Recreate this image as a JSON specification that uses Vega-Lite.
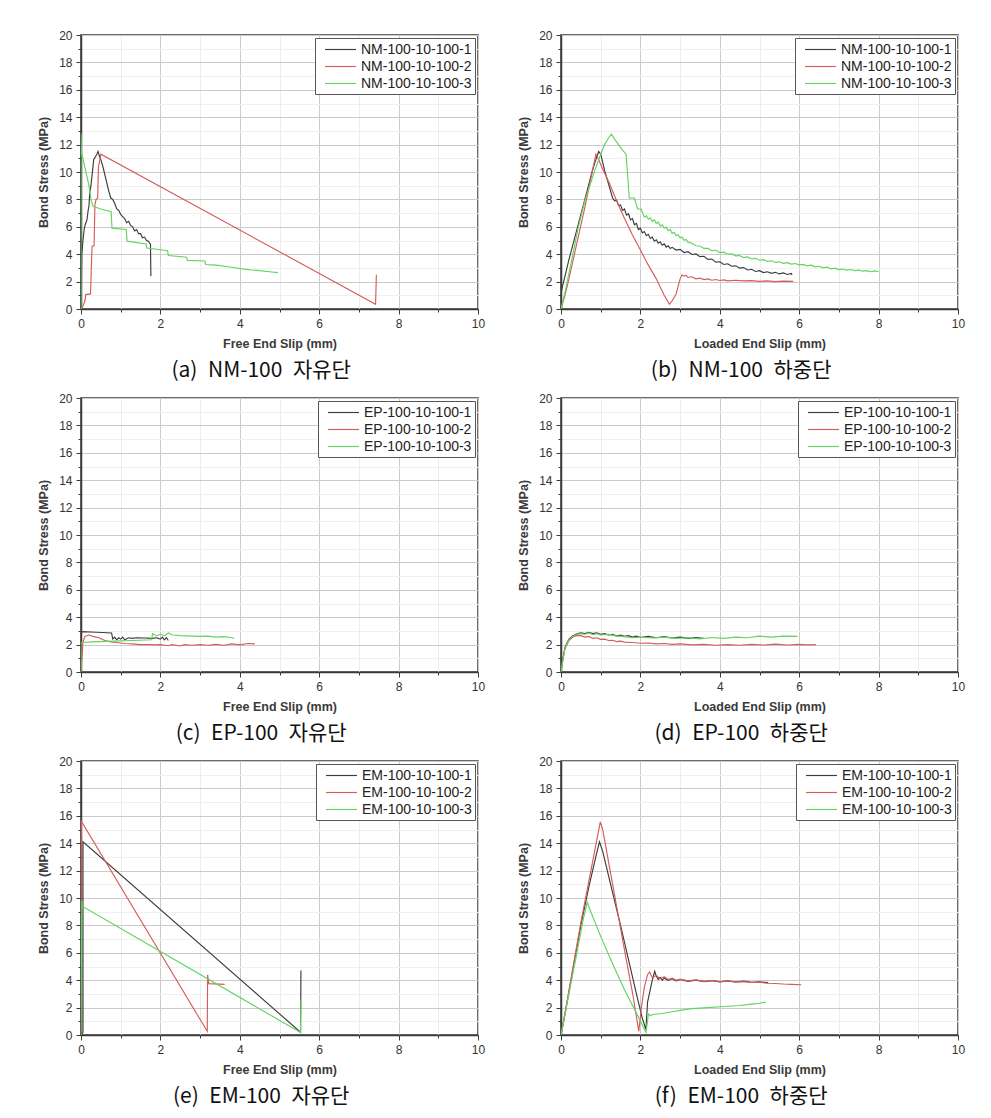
{
 "$schema":"https://vega.github.io/schema/vega-lite/v6.json",
 "background":"white",
 "padding":{"left":36,"top":28,"right":5,"bottom":5},
 "spacing":9,
 "datasets":{
  "a":[
   {"s":"NM-100-10-100-1","x":0,"y":0},{"s":"NM-100-10-100-1","x":0.01,"y":2},{"s":"NM-100-10-100-1","x":0.02,"y":4},{"s":"NM-100-10-100-1","x":0.05,"y":5},{"s":"NM-100-10-100-1","x":0.08,"y":5.8},{"s":"NM-100-10-100-1","x":0.1,"y":6.1},{"s":"NM-100-10-100-1","x":0.15,"y":6.5},{"s":"NM-100-10-100-1","x":0.18,"y":7.2},{"s":"NM-100-10-100-1","x":0.2,"y":7.5},{"s":"NM-100-10-100-1","x":0.22,"y":8.5},{"s":"NM-100-10-100-1","x":0.25,"y":9},{"s":"NM-100-10-100-1","x":0.28,"y":9.8},{"s":"NM-100-10-100-1","x":0.32,"y":10.9},{"s":"NM-100-10-100-1","x":0.36,"y":11.1},{"s":"NM-100-10-100-1","x":0.4,"y":11.3},{"s":"NM-100-10-100-1","x":0.43,"y":11.5},{"s":"NM-100-10-100-1","x":0.46,"y":11.2},{"s":"NM-100-10-100-1","x":0.5,"y":10.9},{"s":"NM-100-10-100-1","x":0.55,"y":10.4},{"s":"NM-100-10-100-1","x":0.6,"y":9.8},{"s":"NM-100-10-100-1","x":0.65,"y":9.2},{"s":"NM-100-10-100-1","x":0.7,"y":8.6},{"s":"NM-100-10-100-1","x":0.75,"y":8.1},{"s":"NM-100-10-100-1","x":0.8,"y":8.0},{"s":"NM-100-10-100-1","x":0.85,"y":7.7},{"s":"NM-100-10-100-1","x":0.9,"y":7.3},{"s":"NM-100-10-100-1","x":0.95,"y":7.2},{"s":"NM-100-10-100-1","x":1.0,"y":6.9},{"s":"NM-100-10-100-1","x":1.05,"y":6.75},{"s":"NM-100-10-100-1","x":1.1,"y":6.6},{"s":"NM-100-10-100-1","x":1.15,"y":6.3},{"s":"NM-100-10-100-1","x":1.2,"y":6.4},{"s":"NM-100-10-100-1","x":1.25,"y":6.1},{"s":"NM-100-10-100-1","x":1.3,"y":6.0},{"s":"NM-100-10-100-1","x":1.35,"y":5.7},{"s":"NM-100-10-100-1","x":1.4,"y":5.8},{"s":"NM-100-10-100-1","x":1.45,"y":5.5},{"s":"NM-100-10-100-1","x":1.5,"y":5.5},{"s":"NM-100-10-100-1","x":1.55,"y":5.2},{"s":"NM-100-10-100-1","x":1.6,"y":5.25},{"s":"NM-100-10-100-1","x":1.65,"y":5.0},{"s":"NM-100-10-100-1","x":1.7,"y":4.95},{"s":"NM-100-10-100-1","x":1.73,"y":4.8},{"s":"NM-100-10-100-1","x":1.75,"y":4.75},{"s":"NM-100-10-100-1","x":1.76,"y":2.4},
   {"s":"NM-100-10-100-2","x":0,"y":0},{"s":"NM-100-10-100-2","x":0.05,"y":0.2},{"s":"NM-100-10-100-2","x":0.1,"y":0.6},{"s":"NM-100-10-100-2","x":0.12,"y":1.05},{"s":"NM-100-10-100-2","x":0.24,"y":1.1},{"s":"NM-100-10-100-2","x":0.26,"y":3.0},{"s":"NM-100-10-100-2","x":0.28,"y":4.6},{"s":"NM-100-10-100-2","x":0.33,"y":4.6},{"s":"NM-100-10-100-2","x":0.35,"y":7.6},{"s":"NM-100-10-100-2","x":0.38,"y":8.0},{"s":"NM-100-10-100-2","x":0.42,"y":8.1},{"s":"NM-100-10-100-2","x":0.44,"y":10.4},{"s":"NM-100-10-100-2","x":0.47,"y":10.8},{"s":"NM-100-10-100-2","x":0.5,"y":11.3},{"s":"NM-100-10-100-2","x":7.42,"y":0.35},{"s":"NM-100-10-100-2","x":7.44,"y":2.5},
   {"s":"NM-100-10-100-3","x":0,"y":0},{"s":"NM-100-10-100-3","x":0,"y":12.8},{"s":"NM-100-10-100-3","x":0.01,"y":11.5},{"s":"NM-100-10-100-3","x":0.1,"y":10.3},{"s":"NM-100-10-100-3","x":0.2,"y":9.0},{"s":"NM-100-10-100-3","x":0.25,"y":8.0},{"s":"NM-100-10-100-3","x":0.3,"y":7.5},{"s":"NM-100-10-100-3","x":0.5,"y":7.3},{"s":"NM-100-10-100-3","x":0.76,"y":7.1},{"s":"NM-100-10-100-3","x":0.78,"y":5.9},{"s":"NM-100-10-100-3","x":1.14,"y":5.8},{"s":"NM-100-10-100-3","x":1.16,"y":4.95},{"s":"NM-100-10-100-3","x":1.64,"y":4.75},{"s":"NM-100-10-100-3","x":1.66,"y":4.45},{"s":"NM-100-10-100-3","x":2.18,"y":4.25},{"s":"NM-100-10-100-3","x":2.2,"y":3.9},{"s":"NM-100-10-100-3","x":2.66,"y":3.78},{"s":"NM-100-10-100-3","x":2.68,"y":3.55},{"s":"NM-100-10-100-3","x":3.12,"y":3.5},{"s":"NM-100-10-100-3","x":3.14,"y":3.25},{"s":"NM-100-10-100-3","x":3.4,"y":3.2},{"s":"NM-100-10-100-3","x":3.8,"y":3.05},{"s":"NM-100-10-100-3","x":4.0,"y":2.95},{"s":"NM-100-10-100-3","x":4.3,"y":2.85},{"s":"NM-100-10-100-3","x":4.5,"y":2.8},{"s":"NM-100-10-100-3","x":4.75,"y":2.72},{"s":"NM-100-10-100-3","x":4.96,"y":2.65}
  ],
  "b":[
   {"s":"NM-100-10-100-1","x":0,"y":0},{"s":"NM-100-10-100-1","x":0.01,"y":1.3},{"s":"NM-100-10-100-1","x":0.1,"y":2.4},{"s":"NM-100-10-100-1","x":0.2,"y":3.6},{"s":"NM-100-10-100-1","x":0.3,"y":4.7},{"s":"NM-100-10-100-1","x":0.4,"y":5.8},{"s":"NM-100-10-100-1","x":0.5,"y":6.9},{"s":"NM-100-10-100-1","x":0.6,"y":8.0},{"s":"NM-100-10-100-1","x":0.7,"y":9.1},{"s":"NM-100-10-100-1","x":0.8,"y":10.2},{"s":"NM-100-10-100-1","x":0.9,"y":11.1},{"s":"NM-100-10-100-1","x":0.95,"y":11.5},{"s":"NM-100-10-100-1","x":1.0,"y":11.3},{"s":"NM-100-10-100-1","x":1.05,"y":10.7},{"s":"NM-100-10-100-1","x":1.1,"y":10.1},{"s":"NM-100-10-100-1","x":1.2,"y":9.1},{"s":"NM-100-10-100-1","x":1.3,"y":8.1},{"s":"NM-100-10-100-1","x":1.35,"y":7.9},{"s":"NM-100-10-100-1","x":1.4,"y":7.95},{"s":"NM-100-10-100-1","x":1.45,"y":7.55},{"s":"NM-100-10-100-1","x":1.5,"y":7.6},{"s":"NM-100-10-100-1","x":1.55,"y":7.2},{"s":"NM-100-10-100-1","x":1.6,"y":7.3},{"s":"NM-100-10-100-1","x":1.65,"y":6.85},{"s":"NM-100-10-100-1","x":1.7,"y":6.95},{"s":"NM-100-10-100-1","x":1.75,"y":6.5},{"s":"NM-100-10-100-1","x":1.8,"y":6.6},{"s":"NM-100-10-100-1","x":1.85,"y":6.15},{"s":"NM-100-10-100-1","x":1.9,"y":6.25},{"s":"NM-100-10-100-1","x":1.95,"y":5.8},{"s":"NM-100-10-100-1","x":2.0,"y":5.9},{"s":"NM-100-10-100-1","x":2.05,"y":5.55},{"s":"NM-100-10-100-1","x":2.1,"y":5.65},{"s":"NM-100-10-100-1","x":2.15,"y":5.35},{"s":"NM-100-10-100-1","x":2.2,"y":5.45},{"s":"NM-100-10-100-1","x":2.25,"y":5.15},{"s":"NM-100-10-100-1","x":2.3,"y":5.25},{"s":"NM-100-10-100-1","x":2.35,"y":4.95},{"s":"NM-100-10-100-1","x":2.4,"y":5.05},{"s":"NM-100-10-100-1","x":2.45,"y":4.8},{"s":"NM-100-10-100-1","x":2.5,"y":4.9},{"s":"NM-100-10-100-1","x":2.55,"y":4.65},{"s":"NM-100-10-100-1","x":2.6,"y":4.75},{"s":"NM-100-10-100-1","x":2.65,"y":4.52},{"s":"NM-100-10-100-1","x":2.7,"y":4.62},{"s":"NM-100-10-100-1","x":2.75,"y":4.42},{"s":"NM-100-10-100-1","x":2.8,"y":4.5},{"s":"NM-100-10-100-1","x":2.9,"y":4.3},{"s":"NM-100-10-100-1","x":3.0,"y":4.35},{"s":"NM-100-10-100-1","x":3.1,"y":4.12},{"s":"NM-100-10-100-1","x":3.2,"y":4.18},{"s":"NM-100-10-100-1","x":3.3,"y":3.98},{"s":"NM-100-10-100-1","x":3.4,"y":4.02},{"s":"NM-100-10-100-1","x":3.5,"y":3.82},{"s":"NM-100-10-100-1","x":3.6,"y":3.85},{"s":"NM-100-10-100-1","x":3.7,"y":3.62},{"s":"NM-100-10-100-1","x":3.8,"y":3.65},{"s":"NM-100-10-100-1","x":3.9,"y":3.42},{"s":"NM-100-10-100-1","x":4.0,"y":3.45},{"s":"NM-100-10-100-1","x":4.1,"y":3.25},{"s":"NM-100-10-100-1","x":4.2,"y":3.3},{"s":"NM-100-10-100-1","x":4.3,"y":3.12},{"s":"NM-100-10-100-1","x":4.4,"y":3.15},{"s":"NM-100-10-100-1","x":4.5,"y":2.98},{"s":"NM-100-10-100-1","x":4.6,"y":3.02},{"s":"NM-100-10-100-1","x":4.7,"y":2.85},{"s":"NM-100-10-100-1","x":4.8,"y":2.9},{"s":"NM-100-10-100-1","x":4.9,"y":2.74},{"s":"NM-100-10-100-1","x":5.0,"y":2.8},{"s":"NM-100-10-100-1","x":5.1,"y":2.66},{"s":"NM-100-10-100-1","x":5.2,"y":2.72},{"s":"NM-100-10-100-1","x":5.3,"y":2.6},{"s":"NM-100-10-100-1","x":5.4,"y":2.68},{"s":"NM-100-10-100-1","x":5.5,"y":2.56},{"s":"NM-100-10-100-1","x":5.6,"y":2.63},{"s":"NM-100-10-100-1","x":5.7,"y":2.52},{"s":"NM-100-10-100-1","x":5.8,"y":2.6},{"s":"NM-100-10-100-1","x":5.82,"y":2.48},
   {"s":"NM-100-10-100-2","x":0,"y":0},{"s":"NM-100-10-100-2","x":0.1,"y":1.0},{"s":"NM-100-10-100-2","x":0.2,"y":2.2},{"s":"NM-100-10-100-2","x":0.3,"y":3.5},{"s":"NM-100-10-100-2","x":0.4,"y":4.8},{"s":"NM-100-10-100-2","x":0.5,"y":6.1},{"s":"NM-100-10-100-2","x":0.6,"y":7.4},{"s":"NM-100-10-100-2","x":0.7,"y":8.8},{"s":"NM-100-10-100-2","x":0.8,"y":10.2},{"s":"NM-100-10-100-2","x":0.88,"y":11.3},{"s":"NM-100-10-100-2","x":0.95,"y":10.9},{"s":"NM-100-10-100-2","x":1.05,"y":10.2},{"s":"NM-100-10-100-2","x":1.2,"y":9.3},{"s":"NM-100-10-100-2","x":1.4,"y":7.9},{"s":"NM-100-10-100-2","x":1.6,"y":6.6},{"s":"NM-100-10-100-2","x":1.8,"y":5.4},{"s":"NM-100-10-100-2","x":2.0,"y":4.3},{"s":"NM-100-10-100-2","x":2.2,"y":3.2},{"s":"NM-100-10-100-2","x":2.4,"y":2.2},{"s":"NM-100-10-100-2","x":2.6,"y":1.0},{"s":"NM-100-10-100-2","x":2.73,"y":0.35},{"s":"NM-100-10-100-2","x":2.8,"y":0.6},{"s":"NM-100-10-100-2","x":2.9,"y":1.1},{"s":"NM-100-10-100-2","x":3.0,"y":2.2},{"s":"NM-100-10-100-2","x":3.05,"y":2.5},{"s":"NM-100-10-100-2","x":3.1,"y":2.4},{"s":"NM-100-10-100-2","x":3.15,"y":2.45},{"s":"NM-100-10-100-2","x":3.2,"y":2.3},{"s":"NM-100-10-100-2","x":3.3,"y":2.35},{"s":"NM-100-10-100-2","x":3.4,"y":2.2},{"s":"NM-100-10-100-2","x":3.5,"y":2.25},{"s":"NM-100-10-100-2","x":3.6,"y":2.15},{"s":"NM-100-10-100-2","x":3.7,"y":2.2},{"s":"NM-100-10-100-2","x":3.8,"y":2.1},{"s":"NM-100-10-100-2","x":3.9,"y":2.15},{"s":"NM-100-10-100-2","x":4.0,"y":2.08},{"s":"NM-100-10-100-2","x":4.1,"y":2.12},{"s":"NM-100-10-100-2","x":4.2,"y":2.05},{"s":"NM-100-10-100-2","x":4.4,"y":2.1},{"s":"NM-100-10-100-2","x":4.6,"y":2.05},{"s":"NM-100-10-100-2","x":4.8,"y":2.07},{"s":"NM-100-10-100-2","x":5.0,"y":2.02},{"s":"NM-100-10-100-2","x":5.2,"y":2.05},{"s":"NM-100-10-100-2","x":5.4,"y":2.0},{"s":"NM-100-10-100-2","x":5.6,"y":2.03},{"s":"NM-100-10-100-2","x":5.85,"y":2.02},
   {"s":"NM-100-10-100-3","x":0,"y":0},{"s":"NM-100-10-100-3","x":0.1,"y":1.2},{"s":"NM-100-10-100-3","x":0.2,"y":2.6},{"s":"NM-100-10-100-3","x":0.3,"y":4.0},{"s":"NM-100-10-100-3","x":0.43,"y":5.9},{"s":"NM-100-10-100-3","x":0.6,"y":7.9},{"s":"NM-100-10-100-3","x":0.85,"y":10.1},{"s":"NM-100-10-100-3","x":1.0,"y":11.3},{"s":"NM-100-10-100-3","x":1.1,"y":12.0},{"s":"NM-100-10-100-3","x":1.2,"y":12.5},{"s":"NM-100-10-100-3","x":1.27,"y":12.75},{"s":"NM-100-10-100-3","x":1.35,"y":12.4},{"s":"NM-100-10-100-3","x":1.45,"y":12.0},{"s":"NM-100-10-100-3","x":1.55,"y":11.6},{"s":"NM-100-10-100-3","x":1.64,"y":11.3},{"s":"NM-100-10-100-3","x":1.7,"y":8.9},{"s":"NM-100-10-100-3","x":1.72,"y":8.1},{"s":"NM-100-10-100-3","x":1.85,"y":8.1},{"s":"NM-100-10-100-3","x":1.93,"y":7.3},{"s":"NM-100-10-100-3","x":2.02,"y":7.3},{"s":"NM-100-10-100-3","x":2.1,"y":6.7},{"s":"NM-100-10-100-3","x":2.15,"y":6.8},{"s":"NM-100-10-100-3","x":2.2,"y":6.55},{"s":"NM-100-10-100-3","x":2.25,"y":6.65},{"s":"NM-100-10-100-3","x":2.3,"y":6.4},{"s":"NM-100-10-100-3","x":2.35,"y":6.5},{"s":"NM-100-10-100-3","x":2.4,"y":6.25},{"s":"NM-100-10-100-3","x":2.45,"y":6.35},{"s":"NM-100-10-100-3","x":2.5,"y":6.05},{"s":"NM-100-10-100-3","x":2.55,"y":6.15},{"s":"NM-100-10-100-3","x":2.6,"y":5.9},{"s":"NM-100-10-100-3","x":2.65,"y":5.98},{"s":"NM-100-10-100-3","x":2.7,"y":5.72},{"s":"NM-100-10-100-3","x":2.75,"y":5.8},{"s":"NM-100-10-100-3","x":2.8,"y":5.52},{"s":"NM-100-10-100-3","x":2.85,"y":5.6},{"s":"NM-100-10-100-3","x":2.9,"y":5.35},{"s":"NM-100-10-100-3","x":2.95,"y":5.42},{"s":"NM-100-10-100-3","x":3.0,"y":5.18},{"s":"NM-100-10-100-3","x":3.05,"y":5.25},{"s":"NM-100-10-100-3","x":3.1,"y":5.02},{"s":"NM-100-10-100-3","x":3.15,"y":5.08},{"s":"NM-100-10-100-3","x":3.2,"y":4.88},{"s":"NM-100-10-100-3","x":3.3,"y":4.8},{"s":"NM-100-10-100-3","x":3.4,"y":4.62},{"s":"NM-100-10-100-3","x":3.5,"y":4.6},{"s":"NM-100-10-100-3","x":3.6,"y":4.42},{"s":"NM-100-10-100-3","x":3.7,"y":4.42},{"s":"NM-100-10-100-3","x":3.8,"y":4.25},{"s":"NM-100-10-100-3","x":3.9,"y":4.28},{"s":"NM-100-10-100-3","x":4.0,"y":4.12},{"s":"NM-100-10-100-3","x":4.1,"y":4.15},{"s":"NM-100-10-100-3","x":4.2,"y":4.0},{"s":"NM-100-10-100-3","x":4.3,"y":4.02},{"s":"NM-100-10-100-3","x":4.4,"y":3.88},{"s":"NM-100-10-100-3","x":4.5,"y":3.9},{"s":"NM-100-10-100-3","x":4.6,"y":3.75},{"s":"NM-100-10-100-3","x":4.7,"y":3.8},{"s":"NM-100-10-100-3","x":4.8,"y":3.65},{"s":"NM-100-10-100-3","x":4.9,"y":3.7},{"s":"NM-100-10-100-3","x":5.0,"y":3.56},{"s":"NM-100-10-100-3","x":5.1,"y":3.6},{"s":"NM-100-10-100-3","x":5.2,"y":3.48},{"s":"NM-100-10-100-3","x":5.3,"y":3.52},{"s":"NM-100-10-100-3","x":5.4,"y":3.4},{"s":"NM-100-10-100-3","x":5.5,"y":3.45},{"s":"NM-100-10-100-3","x":5.6,"y":3.33},{"s":"NM-100-10-100-3","x":5.7,"y":3.38},{"s":"NM-100-10-100-3","x":5.8,"y":3.28},{"s":"NM-100-10-100-3","x":5.9,"y":3.32},{"s":"NM-100-10-100-3","x":6.0,"y":3.22},{"s":"NM-100-10-100-3","x":6.1,"y":3.26},{"s":"NM-100-10-100-3","x":6.2,"y":3.15},{"s":"NM-100-10-100-3","x":6.3,"y":3.2},{"s":"NM-100-10-100-3","x":6.4,"y":3.08},{"s":"NM-100-10-100-3","x":6.5,"y":3.12},{"s":"NM-100-10-100-3","x":6.6,"y":3.0},{"s":"NM-100-10-100-3","x":6.7,"y":3.05},{"s":"NM-100-10-100-3","x":6.8,"y":2.93},{"s":"NM-100-10-100-3","x":6.9,"y":2.98},{"s":"NM-100-10-100-3","x":7.0,"y":2.88},{"s":"NM-100-10-100-3","x":7.1,"y":2.92},{"s":"NM-100-10-100-3","x":7.2,"y":2.84},{"s":"NM-100-10-100-3","x":7.3,"y":2.88},{"s":"NM-100-10-100-3","x":7.4,"y":2.8},{"s":"NM-100-10-100-3","x":7.5,"y":2.84},{"s":"NM-100-10-100-3","x":7.6,"y":2.76},{"s":"NM-100-10-100-3","x":7.7,"y":2.8},{"s":"NM-100-10-100-3","x":7.8,"y":2.72},{"s":"NM-100-10-100-3","x":7.9,"y":2.78},{"s":"NM-100-10-100-3","x":8.0,"y":2.72}
  ],
  "c":[
   {"s":"EP-100-10-100-1","x":0,"y":0},{"s":"EP-100-10-100-1","x":0,"y":2.95},{"s":"EP-100-10-100-1","x":0.4,"y":2.9},{"s":"EP-100-10-100-1","x":0.77,"y":2.85},{"s":"EP-100-10-100-1","x":0.8,"y":2.4},{"s":"EP-100-10-100-1","x":0.85,"y":2.55},{"s":"EP-100-10-100-1","x":0.9,"y":2.35},{"s":"EP-100-10-100-1","x":0.95,"y":2.5},{"s":"EP-100-10-100-1","x":1.0,"y":2.4},{"s":"EP-100-10-100-1","x":1.05,"y":2.55},{"s":"EP-100-10-100-1","x":1.1,"y":2.35},{"s":"EP-100-10-100-1","x":1.2,"y":2.5},{"s":"EP-100-10-100-1","x":1.3,"y":2.45},{"s":"EP-100-10-100-1","x":1.4,"y":2.5},{"s":"EP-100-10-100-1","x":1.6,"y":2.48},{"s":"EP-100-10-100-1","x":1.8,"y":2.45},{"s":"EP-100-10-100-1","x":1.9,"y":2.5},{"s":"EP-100-10-100-1","x":2.0,"y":2.4},{"s":"EP-100-10-100-1","x":2.05,"y":2.55},{"s":"EP-100-10-100-1","x":2.1,"y":2.35},{"s":"EP-100-10-100-1","x":2.15,"y":2.5},{"s":"EP-100-10-100-1","x":2.2,"y":2.3},
   {"s":"EP-100-10-100-2","x":0,"y":0},{"s":"EP-100-10-100-2","x":0.05,"y":2.2},{"s":"EP-100-10-100-2","x":0.1,"y":2.6},{"s":"EP-100-10-100-2","x":0.2,"y":2.7},{"s":"EP-100-10-100-2","x":0.3,"y":2.6},{"s":"EP-100-10-100-2","x":0.45,"y":2.5},{"s":"EP-100-10-100-2","x":0.6,"y":2.3},{"s":"EP-100-10-100-2","x":0.75,"y":2.2},{"s":"EP-100-10-100-2","x":0.9,"y":2.15},{"s":"EP-100-10-100-2","x":1.1,"y":2.08},{"s":"EP-100-10-100-2","x":1.3,"y":2.05},{"s":"EP-100-10-100-2","x":1.5,"y":2.0},{"s":"EP-100-10-100-2","x":1.7,"y":2.0},{"s":"EP-100-10-100-2","x":1.9,"y":1.98},{"s":"EP-100-10-100-2","x":2.0,"y":2.0},{"s":"EP-100-10-100-2","x":2.2,"y":1.92},{"s":"EP-100-10-100-2","x":2.3,"y":2.0},{"s":"EP-100-10-100-2","x":2.5,"y":1.9},{"s":"EP-100-10-100-2","x":2.6,"y":2.0},{"s":"EP-100-10-100-2","x":2.8,"y":1.95},{"s":"EP-100-10-100-2","x":3.0,"y":2.0},{"s":"EP-100-10-100-2","x":3.2,"y":1.95},{"s":"EP-100-10-100-2","x":3.4,"y":2.02},{"s":"EP-100-10-100-2","x":3.6,"y":1.95},{"s":"EP-100-10-100-2","x":3.8,"y":2.05},{"s":"EP-100-10-100-2","x":4.0,"y":1.98},{"s":"EP-100-10-100-2","x":4.2,"y":2.08},{"s":"EP-100-10-100-2","x":4.38,"y":2.05},
   {"s":"EP-100-10-100-3","x":0,"y":0},{"s":"EP-100-10-100-3","x":0,"y":2.15},{"s":"EP-100-10-100-3","x":0.3,"y":2.2},{"s":"EP-100-10-100-3","x":0.8,"y":2.25},{"s":"EP-100-10-100-3","x":1.3,"y":2.3},{"s":"EP-100-10-100-3","x":1.78,"y":2.35},{"s":"EP-100-10-100-3","x":1.8,"y":2.8},{"s":"EP-100-10-100-3","x":1.9,"y":2.65},{"s":"EP-100-10-100-3","x":2.0,"y":2.75},{"s":"EP-100-10-100-3","x":2.1,"y":2.65},{"s":"EP-100-10-100-3","x":2.2,"y":2.85},{"s":"EP-100-10-100-3","x":2.3,"y":2.7},{"s":"EP-100-10-100-3","x":2.5,"y":2.65},{"s":"EP-100-10-100-3","x":2.8,"y":2.62},{"s":"EP-100-10-100-3","x":3.0,"y":2.6},{"s":"EP-100-10-100-3","x":3.2,"y":2.62},{"s":"EP-100-10-100-3","x":3.4,"y":2.55},{"s":"EP-100-10-100-3","x":3.6,"y":2.58},{"s":"EP-100-10-100-3","x":3.8,"y":2.5},{"s":"EP-100-10-100-3","x":3.86,"y":2.45}
  ],
  "d":[
   {"s":"EP-100-10-100-1","x":0,"y":0},{"s":"EP-100-10-100-1","x":0.05,"y":1.0},{"s":"EP-100-10-100-1","x":0.1,"y":1.8},{"s":"EP-100-10-100-1","x":0.2,"y":2.4},{"s":"EP-100-10-100-1","x":0.3,"y":2.65},{"s":"EP-100-10-100-1","x":0.4,"y":2.78},{"s":"EP-100-10-100-1","x":0.5,"y":2.85},{"s":"EP-100-10-100-1","x":0.6,"y":2.8},{"s":"EP-100-10-100-1","x":0.7,"y":2.9},{"s":"EP-100-10-100-1","x":0.8,"y":2.8},{"s":"EP-100-10-100-1","x":0.9,"y":2.85},{"s":"EP-100-10-100-1","x":1.0,"y":2.75},{"s":"EP-100-10-100-1","x":1.1,"y":2.8},{"s":"EP-100-10-100-1","x":1.2,"y":2.7},{"s":"EP-100-10-100-1","x":1.3,"y":2.75},{"s":"EP-100-10-100-1","x":1.4,"y":2.62},{"s":"EP-100-10-100-1","x":1.5,"y":2.7},{"s":"EP-100-10-100-1","x":1.6,"y":2.6},{"s":"EP-100-10-100-1","x":1.7,"y":2.65},{"s":"EP-100-10-100-1","x":1.8,"y":2.55},{"s":"EP-100-10-100-1","x":1.9,"y":2.62},{"s":"EP-100-10-100-1","x":2.0,"y":2.52},{"s":"EP-100-10-100-1","x":2.2,"y":2.6},{"s":"EP-100-10-100-1","x":2.4,"y":2.5},{"s":"EP-100-10-100-1","x":2.6,"y":2.58},{"s":"EP-100-10-100-1","x":2.8,"y":2.48},{"s":"EP-100-10-100-1","x":3.0,"y":2.55},{"s":"EP-100-10-100-1","x":3.2,"y":2.45},{"s":"EP-100-10-100-1","x":3.4,"y":2.52},{"s":"EP-100-10-100-1","x":3.6,"y":2.45},
   {"s":"EP-100-10-100-2","x":0,"y":0},{"s":"EP-100-10-100-2","x":0.05,"y":1.0},{"s":"EP-100-10-100-2","x":0.1,"y":1.7},{"s":"EP-100-10-100-2","x":0.2,"y":2.3},{"s":"EP-100-10-100-2","x":0.3,"y":2.55},{"s":"EP-100-10-100-2","x":0.4,"y":2.65},{"s":"EP-100-10-100-2","x":0.5,"y":2.65},{"s":"EP-100-10-100-2","x":0.6,"y":2.55},{"s":"EP-100-10-100-2","x":0.7,"y":2.6},{"s":"EP-100-10-100-2","x":0.8,"y":2.45},{"s":"EP-100-10-100-2","x":0.9,"y":2.5},{"s":"EP-100-10-100-2","x":1.0,"y":2.38},{"s":"EP-100-10-100-2","x":1.1,"y":2.4},{"s":"EP-100-10-100-2","x":1.2,"y":2.3},{"s":"EP-100-10-100-2","x":1.3,"y":2.32},{"s":"EP-100-10-100-2","x":1.4,"y":2.22},{"s":"EP-100-10-100-2","x":1.5,"y":2.25},{"s":"EP-100-10-100-2","x":1.6,"y":2.18},{"s":"EP-100-10-100-2","x":1.8,"y":2.15},{"s":"EP-100-10-100-2","x":2.0,"y":2.1},{"s":"EP-100-10-100-2","x":2.2,"y":2.12},{"s":"EP-100-10-100-2","x":2.4,"y":2.05},{"s":"EP-100-10-100-2","x":2.6,"y":2.08},{"s":"EP-100-10-100-2","x":2.8,"y":2.02},{"s":"EP-100-10-100-2","x":3.0,"y":2.05},{"s":"EP-100-10-100-2","x":3.3,"y":1.98},{"s":"EP-100-10-100-2","x":3.6,"y":2.02},{"s":"EP-100-10-100-2","x":3.9,"y":1.95},{"s":"EP-100-10-100-2","x":4.2,"y":2.0},{"s":"EP-100-10-100-2","x":4.5,"y":1.95},{"s":"EP-100-10-100-2","x":4.8,"y":2.02},{"s":"EP-100-10-100-2","x":5.1,"y":1.97},{"s":"EP-100-10-100-2","x":5.4,"y":2.03},{"s":"EP-100-10-100-2","x":5.7,"y":1.97},{"s":"EP-100-10-100-2","x":6.0,"y":2.02},{"s":"EP-100-10-100-2","x":6.2,"y":1.98},{"s":"EP-100-10-100-2","x":6.42,"y":2.0},
   {"s":"EP-100-10-100-3","x":0,"y":0},{"s":"EP-100-10-100-3","x":0.05,"y":0.9},{"s":"EP-100-10-100-3","x":0.1,"y":1.7},{"s":"EP-100-10-100-3","x":0.2,"y":2.35},{"s":"EP-100-10-100-3","x":0.3,"y":2.6},{"s":"EP-100-10-100-3","x":0.4,"y":2.75},{"s":"EP-100-10-100-3","x":0.5,"y":2.8},{"s":"EP-100-10-100-3","x":0.6,"y":2.75},{"s":"EP-100-10-100-3","x":0.7,"y":2.85},{"s":"EP-100-10-100-3","x":0.8,"y":2.72},{"s":"EP-100-10-100-3","x":0.9,"y":2.8},{"s":"EP-100-10-100-3","x":1.0,"y":2.7},{"s":"EP-100-10-100-3","x":1.2,"y":2.75},{"s":"EP-100-10-100-3","x":1.4,"y":2.62},{"s":"EP-100-10-100-3","x":1.6,"y":2.58},{"s":"EP-100-10-100-3","x":1.8,"y":2.5},{"s":"EP-100-10-100-3","x":2.0,"y":2.55},{"s":"EP-100-10-100-3","x":2.3,"y":2.48},{"s":"EP-100-10-100-3","x":2.6,"y":2.55},{"s":"EP-100-10-100-3","x":2.9,"y":2.45},{"s":"EP-100-10-100-3","x":3.2,"y":2.5},{"s":"EP-100-10-100-3","x":3.5,"y":2.42},{"s":"EP-100-10-100-3","x":3.8,"y":2.52},{"s":"EP-100-10-100-3","x":4.1,"y":2.45},{"s":"EP-100-10-100-3","x":4.4,"y":2.55},{"s":"EP-100-10-100-3","x":4.7,"y":2.5},{"s":"EP-100-10-100-3","x":5.0,"y":2.62},{"s":"EP-100-10-100-3","x":5.3,"y":2.55},{"s":"EP-100-10-100-3","x":5.6,"y":2.62},{"s":"EP-100-10-100-3","x":5.96,"y":2.6}
  ],
  "e":[
   {"s":"EM-100-10-100-1","x":0,"y":0},{"s":"EM-100-10-100-1","x":0.05,"y":0.2},{"s":"EM-100-10-100-1","x":0.05,"y":14.1},{"s":"EM-100-10-100-1","x":5.53,"y":0.2},{"s":"EM-100-10-100-1","x":5.54,"y":4.7},
   {"s":"EM-100-10-100-2","x":0,"y":0},{"s":"EM-100-10-100-2","x":0.01,"y":15.6},{"s":"EM-100-10-100-2","x":3.18,"y":0.27},{"s":"EM-100-10-100-2","x":3.19,"y":4.4},{"s":"EM-100-10-100-2","x":3.22,"y":3.75},{"s":"EM-100-10-100-2","x":3.62,"y":3.7},
   {"s":"EM-100-10-100-3","x":0,"y":0},{"s":"EM-100-10-100-3","x":0.02,"y":9.8},{"s":"EM-100-10-100-3","x":0.03,"y":9.4},{"s":"EM-100-10-100-3","x":5.53,"y":0.18},{"s":"EM-100-10-100-3","x":5.54,"y":2.6}
  ],
  "f":[
   {"s":"EM-100-10-100-1","x":0,"y":0},{"s":"EM-100-10-100-1","x":0.1,"y":1.5},{"s":"EM-100-10-100-1","x":0.3,"y":4.8},{"s":"EM-100-10-100-1","x":0.5,"y":8.0},{"s":"EM-100-10-100-1","x":0.7,"y":10.8},{"s":"EM-100-10-100-1","x":0.9,"y":13.3},{"s":"EM-100-10-100-1","x":0.97,"y":14.1},{"s":"EM-100-10-100-1","x":1.05,"y":13.4},{"s":"EM-100-10-100-1","x":1.3,"y":10.4},{"s":"EM-100-10-100-1","x":1.5,"y":8.0},{"s":"EM-100-10-100-1","x":1.7,"y":5.5},{"s":"EM-100-10-100-1","x":1.9,"y":3.0},{"s":"EM-100-10-100-1","x":2.05,"y":1.2},{"s":"EM-100-10-100-1","x":2.14,"y":0.4},{"s":"EM-100-10-100-1","x":2.18,"y":2.4},{"s":"EM-100-10-100-1","x":2.3,"y":4.0},{"s":"EM-100-10-100-1","x":2.36,"y":4.65},{"s":"EM-100-10-100-1","x":2.4,"y":4.3},{"s":"EM-100-10-100-1","x":2.45,"y":4.05},{"s":"EM-100-10-100-1","x":2.5,"y":4.2},{"s":"EM-100-10-100-1","x":2.55,"y":4.0},{"s":"EM-100-10-100-1","x":2.6,"y":4.15},{"s":"EM-100-10-100-1","x":2.7,"y":3.98},{"s":"EM-100-10-100-1","x":2.8,"y":4.1},{"s":"EM-100-10-100-1","x":2.9,"y":3.95},{"s":"EM-100-10-100-1","x":3.0,"y":4.05},{"s":"EM-100-10-100-1","x":3.2,"y":3.92},{"s":"EM-100-10-100-1","x":3.4,"y":4.0},{"s":"EM-100-10-100-1","x":3.6,"y":3.9},{"s":"EM-100-10-100-1","x":3.8,"y":3.97},{"s":"EM-100-10-100-1","x":4.0,"y":3.88},{"s":"EM-100-10-100-1","x":4.2,"y":3.95},{"s":"EM-100-10-100-1","x":4.4,"y":3.87},{"s":"EM-100-10-100-1","x":4.6,"y":3.93},{"s":"EM-100-10-100-1","x":4.8,"y":3.85},{"s":"EM-100-10-100-1","x":5.0,"y":3.88},{"s":"EM-100-10-100-1","x":5.22,"y":3.82},
   {"s":"EM-100-10-100-2","x":0,"y":0},{"s":"EM-100-10-100-2","x":0.1,"y":1.6},{"s":"EM-100-10-100-2","x":0.3,"y":4.9},{"s":"EM-100-10-100-2","x":0.5,"y":8.2},{"s":"EM-100-10-100-2","x":0.7,"y":11.2},{"s":"EM-100-10-100-2","x":0.9,"y":14.2},{"s":"EM-100-10-100-2","x":0.99,"y":15.55},{"s":"EM-100-10-100-2","x":1.05,"y":15.0},{"s":"EM-100-10-100-2","x":1.2,"y":12.6},{"s":"EM-100-10-100-2","x":1.4,"y":9.4},{"s":"EM-100-10-100-2","x":1.6,"y":6.2},{"s":"EM-100-10-100-2","x":1.8,"y":3.1},{"s":"EM-100-10-100-2","x":1.96,"y":0.27},{"s":"EM-100-10-100-2","x":2.02,"y":1.9},{"s":"EM-100-10-100-2","x":2.1,"y":3.5},{"s":"EM-100-10-100-2","x":2.18,"y":4.4},{"s":"EM-100-10-100-2","x":2.23,"y":4.6},{"s":"EM-100-10-100-2","x":2.3,"y":4.2},{"s":"EM-100-10-100-2","x":2.4,"y":4.35},{"s":"EM-100-10-100-2","x":2.5,"y":4.1},{"s":"EM-100-10-100-2","x":2.6,"y":4.25},{"s":"EM-100-10-100-2","x":2.7,"y":4.05},{"s":"EM-100-10-100-2","x":2.8,"y":4.15},{"s":"EM-100-10-100-2","x":2.9,"y":4.0},{"s":"EM-100-10-100-2","x":3.0,"y":4.08},{"s":"EM-100-10-100-2","x":3.2,"y":3.95},{"s":"EM-100-10-100-2","x":3.4,"y":4.02},{"s":"EM-100-10-100-2","x":3.6,"y":3.92},{"s":"EM-100-10-100-2","x":3.8,"y":3.98},{"s":"EM-100-10-100-2","x":4.0,"y":3.9},{"s":"EM-100-10-100-2","x":4.2,"y":3.95},{"s":"EM-100-10-100-2","x":4.4,"y":3.86},{"s":"EM-100-10-100-2","x":4.6,"y":3.9},{"s":"EM-100-10-100-2","x":4.8,"y":3.83},{"s":"EM-100-10-100-2","x":5.0,"y":3.85},{"s":"EM-100-10-100-2","x":5.2,"y":3.78},{"s":"EM-100-10-100-2","x":5.4,"y":3.76},{"s":"EM-100-10-100-2","x":5.6,"y":3.72},{"s":"EM-100-10-100-2","x":5.8,"y":3.7},{"s":"EM-100-10-100-2","x":6.05,"y":3.67},
   {"s":"EM-100-10-100-3","x":0,"y":0},{"s":"EM-100-10-100-3","x":0.2,"y":3.0},{"s":"EM-100-10-100-3","x":0.4,"y":6.0},{"s":"EM-100-10-100-3","x":0.55,"y":8.3},{"s":"EM-100-10-100-3","x":0.66,"y":9.7},{"s":"EM-100-10-100-3","x":0.75,"y":9.0},{"s":"EM-100-10-100-3","x":1.0,"y":7.2},{"s":"EM-100-10-100-3","x":1.3,"y":5.2},{"s":"EM-100-10-100-3","x":1.6,"y":3.3},{"s":"EM-100-10-100-3","x":1.9,"y":1.6},{"s":"EM-100-10-100-3","x":2.14,"y":0.2},{"s":"EM-100-10-100-3","x":2.18,"y":1.0},{"s":"EM-100-10-100-3","x":2.2,"y":1.55},{"s":"EM-100-10-100-3","x":2.25,"y":1.4},{"s":"EM-100-10-100-3","x":2.3,"y":1.5},{"s":"EM-100-10-100-3","x":2.5,"y":1.55},{"s":"EM-100-10-100-3","x":2.8,"y":1.7},{"s":"EM-100-10-100-3","x":3.0,"y":1.8},{"s":"EM-100-10-100-3","x":3.28,"y":1.92},{"s":"EM-100-10-100-3","x":3.6,"y":1.98},{"s":"EM-100-10-100-3","x":4.11,"y":2.08},{"s":"EM-100-10-100-3","x":4.5,"y":2.15},{"s":"EM-100-10-100-3","x":4.8,"y":2.25},{"s":"EM-100-10-100-3","x":5.0,"y":2.32},{"s":"EM-100-10-100-3","x":5.16,"y":2.4}
  ]
 },
 "vconcat":[
  {"spacing":30,"resolve":{"scale":{"color":"independent"},"legend":{"color":"independent"}},"hconcat":[
   {"width":397,"height":274,"data":{"name":"a"},"mark":{"type":"line","clip":true},
    "encoding":{
     "x":{"field":"x","type":"quantitative","scale":{"domain":[0,10],"nice":false},"axis":{"title":"Free End Slip (mm)","values":[0,1,2,3,4,5,6,7,8,9,10],"labelExpr":"datum.value % 2 == 0 ? datum.label : ''","tickSize":{"condition":{"test":"datum.value % 2 == 0","value":5},"value":3},"gridColor":{"condition":{"test":"datum.value % 2 == 0","value":"#cbcbcb"},"value":"#ededed"}}},
     "y":{"field":"y","type":"quantitative","scale":{"domain":[0,20],"nice":false},"axis":{"title":"Bond Stress (MPa)","values":[0,1,2,3,4,5,6,7,8,9,10,11,12,13,14,15,16,17,18,19,20],"labelExpr":"datum.value % 2 == 0 ? datum.label : ''","tickSize":{"condition":{"test":"datum.value % 2 == 0","value":5},"value":3},"gridColor":{"condition":{"test":"datum.value % 2 == 0","value":"#cbcbcb"},"value":"#f0f0f0"}}},
     "color":{"field":"s","type":"nominal","scale":{"domain":["NM-100-10-100-1","NM-100-10-100-2","NM-100-10-100-3"],"range":["#3c3c3c","#d65c5c","#62d462"]},"legend":{"title":null}},
     "order":{"value":null}},
    "title":{"text":"(a)\u2002NM-100\u2002자유단"}},
   {"width":397,"height":274,"data":{"name":"b"},"mark":{"type":"line","clip":true},
    "encoding":{
     "x":{"field":"x","type":"quantitative","scale":{"domain":[0,10],"nice":false},"axis":{"title":"Loaded End Slip (mm)","values":[0,1,2,3,4,5,6,7,8,9,10],"labelExpr":"datum.value % 2 == 0 ? datum.label : ''","tickSize":{"condition":{"test":"datum.value % 2 == 0","value":5},"value":3},"gridColor":{"condition":{"test":"datum.value % 2 == 0","value":"#cbcbcb"},"value":"#ededed"}}},
     "y":{"field":"y","type":"quantitative","scale":{"domain":[0,20],"nice":false},"axis":{"title":"Bond Stress (MPa)","values":[0,1,2,3,4,5,6,7,8,9,10,11,12,13,14,15,16,17,18,19,20],"labelExpr":"datum.value % 2 == 0 ? datum.label : ''","tickSize":{"condition":{"test":"datum.value % 2 == 0","value":5},"value":3},"gridColor":{"condition":{"test":"datum.value % 2 == 0","value":"#cbcbcb"},"value":"#f0f0f0"}}},
     "color":{"field":"s","type":"nominal","scale":{"domain":["NM-100-10-100-1","NM-100-10-100-2","NM-100-10-100-3"],"range":["#3c3c3c","#d65c5c","#62d462"]},"legend":{"title":null}},
     "order":{"value":null}},
    "title":{"text":"(b)\u2002NM-100\u2002하중단"}}
  ]},
  {"spacing":30,"resolve":{"scale":{"color":"independent"},"legend":{"color":"independent"}},"hconcat":[
   {"width":397,"height":274,"data":{"name":"c"},"mark":{"type":"line","clip":true},
    "encoding":{
     "x":{"field":"x","type":"quantitative","scale":{"domain":[0,10],"nice":false},"axis":{"title":"Free End Slip (mm)","values":[0,1,2,3,4,5,6,7,8,9,10],"labelExpr":"datum.value % 2 == 0 ? datum.label : ''","tickSize":{"condition":{"test":"datum.value % 2 == 0","value":5},"value":3},"gridColor":{"condition":{"test":"datum.value % 2 == 0","value":"#cbcbcb"},"value":"#ededed"}}},
     "y":{"field":"y","type":"quantitative","scale":{"domain":[0,20],"nice":false},"axis":{"title":"Bond Stress (MPa)","values":[0,1,2,3,4,5,6,7,8,9,10,11,12,13,14,15,16,17,18,19,20],"labelExpr":"datum.value % 2 == 0 ? datum.label : ''","tickSize":{"condition":{"test":"datum.value % 2 == 0","value":5},"value":3},"gridColor":{"condition":{"test":"datum.value % 2 == 0","value":"#cbcbcb"},"value":"#f0f0f0"}}},
     "color":{"field":"s","type":"nominal","scale":{"domain":["EP-100-10-100-1","EP-100-10-100-2","EP-100-10-100-3"],"range":["#3c3c3c","#d65c5c","#62d462"]},"legend":{"title":null}},
     "order":{"value":null}},
    "title":{"text":"(c)\u2002EP-100\u2002자유단"}},
   {"width":397,"height":274,"data":{"name":"d"},"mark":{"type":"line","clip":true},
    "encoding":{
     "x":{"field":"x","type":"quantitative","scale":{"domain":[0,10],"nice":false},"axis":{"title":"Loaded End Slip (mm)","values":[0,1,2,3,4,5,6,7,8,9,10],"labelExpr":"datum.value % 2 == 0 ? datum.label : ''","tickSize":{"condition":{"test":"datum.value % 2 == 0","value":5},"value":3},"gridColor":{"condition":{"test":"datum.value % 2 == 0","value":"#cbcbcb"},"value":"#ededed"}}},
     "y":{"field":"y","type":"quantitative","scale":{"domain":[0,20],"nice":false},"axis":{"title":"Bond Stress (MPa)","values":[0,1,2,3,4,5,6,7,8,9,10,11,12,13,14,15,16,17,18,19,20],"labelExpr":"datum.value % 2 == 0 ? datum.label : ''","tickSize":{"condition":{"test":"datum.value % 2 == 0","value":5},"value":3},"gridColor":{"condition":{"test":"datum.value % 2 == 0","value":"#cbcbcb"},"value":"#f0f0f0"}}},
     "color":{"field":"s","type":"nominal","scale":{"domain":["EP-100-10-100-1","EP-100-10-100-2","EP-100-10-100-3"],"range":["#3c3c3c","#d65c5c","#62d462"]},"legend":{"title":null}},
     "order":{"value":null}},
    "title":{"text":"(d)\u2002EP-100\u2002하중단"}}
  ]},
  {"spacing":30,"resolve":{"scale":{"color":"independent"},"legend":{"color":"independent"}},"hconcat":[
   {"width":397,"height":274,"data":{"name":"e"},"mark":{"type":"line","clip":true},
    "encoding":{
     "x":{"field":"x","type":"quantitative","scale":{"domain":[0,10],"nice":false},"axis":{"title":"Free End Slip (mm)","values":[0,1,2,3,4,5,6,7,8,9,10],"labelExpr":"datum.value % 2 == 0 ? datum.label : ''","tickSize":{"condition":{"test":"datum.value % 2 == 0","value":5},"value":3},"gridColor":{"condition":{"test":"datum.value % 2 == 0","value":"#cbcbcb"},"value":"#ededed"}}},
     "y":{"field":"y","type":"quantitative","scale":{"domain":[0,20],"nice":false},"axis":{"title":"Bond Stress (MPa)","values":[0,1,2,3,4,5,6,7,8,9,10,11,12,13,14,15,16,17,18,19,20],"labelExpr":"datum.value % 2 == 0 ? datum.label : ''","tickSize":{"condition":{"test":"datum.value % 2 == 0","value":5},"value":3},"gridColor":{"condition":{"test":"datum.value % 2 == 0","value":"#cbcbcb"},"value":"#f0f0f0"}}},
     "color":{"field":"s","type":"nominal","scale":{"domain":["EM-100-10-100-1","EM-100-10-100-2","EM-100-10-100-3"],"range":["#3c3c3c","#d65c5c","#62d462"]},"legend":{"title":null}},
     "order":{"value":null}},
    "title":{"text":"(e)\u2002EM-100\u2002자유단"}},
   {"width":397,"height":274,"data":{"name":"f"},"mark":{"type":"line","clip":true},
    "encoding":{
     "x":{"field":"x","type":"quantitative","scale":{"domain":[0,10],"nice":false},"axis":{"title":"Loaded End Slip (mm)","values":[0,1,2,3,4,5,6,7,8,9,10],"labelExpr":"datum.value % 2 == 0 ? datum.label : ''","tickSize":{"condition":{"test":"datum.value % 2 == 0","value":5},"value":3},"gridColor":{"condition":{"test":"datum.value % 2 == 0","value":"#cbcbcb"},"value":"#ededed"}}},
     "y":{"field":"y","type":"quantitative","scale":{"domain":[0,20],"nice":false},"axis":{"title":"Bond Stress (MPa)","values":[0,1,2,3,4,5,6,7,8,9,10,11,12,13,14,15,16,17,18,19,20],"labelExpr":"datum.value % 2 == 0 ? datum.label : ''","tickSize":{"condition":{"test":"datum.value % 2 == 0","value":5},"value":3},"gridColor":{"condition":{"test":"datum.value % 2 == 0","value":"#cbcbcb"},"value":"#f0f0f0"}}},
     "color":{"field":"s","type":"nominal","scale":{"domain":["EM-100-10-100-1","EM-100-10-100-2","EM-100-10-100-3"],"range":["#3c3c3c","#d65c5c","#62d462"]},"legend":{"title":null}},
     "order":{"value":null}},
    "title":{"text":"(f)\u2002EM-100\u2002하중단"}}
  ]}
 ],
 "resolve":{"scale":{"color":"independent"},"legend":{"color":"independent"}},
 "config":{
  "view":{"stroke":"#3a3a3a","strokeWidth":1.5},
  "line":{"strokeWidth":1.15},
  "axis":{"labelFont":"Liberation Sans","labelFontSize":12,"labelColor":"#333333","labelPadding":4,"labelFlush":false,"labelOverlap":false,"titleFont":"Liberation Sans","titleFontSize":12.5,"titleFontWeight":"bold","titleColor":"#3a3a3a","domainColor":"#3a3a3a","domainWidth":1.5,"tickColor":"#3a3a3a","tickWidth":1,"gridWidth":1},
  "axisX":{"titlePadding":8},
  "axisY":{"titlePadding":8},
  "legend":{"orient":"top-right","offset":3,"strokeColor":"#555555","fillColor":"white","padding":3,"labelFont":"Liberation Sans","labelFontSize":14,"labelColor":"#222222","symbolType":"M-2,0L2,0","symbolSize":240,"symbolStrokeWidth":1.3,"labelOffset":12,"rowPadding":1,"symbolOffset":14},
  "title":{"orient":"bottom","anchor":"middle","frame":"bounds","font":"Noto Sans CJK KR","fontSize":21,"fontWeight":"normal","color":"#111111","offset":10}
 }
}
